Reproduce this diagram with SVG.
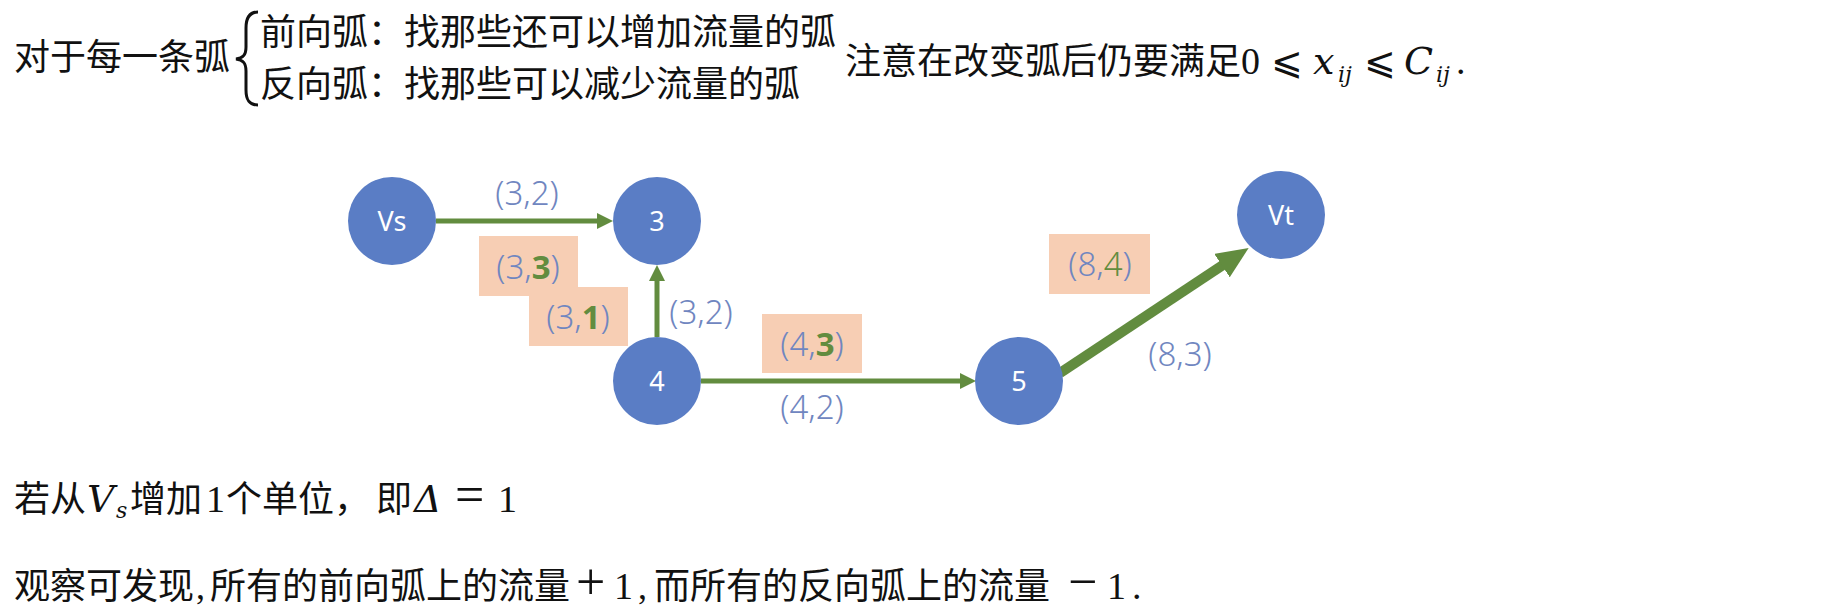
<svg xmlns="http://www.w3.org/2000/svg" width="1846" height="610" viewBox="0 0 1846 610">
<style>
.cjk{font-family:"Liberation Serif","Noto Sans CJK SC",serif;font-size:36px;fill:#111}
.mi{font-family:"DejaVu Serif",serif;font-style:italic;font-size:38px}
.mo{font-family:"Liberation Serif",serif;font-size:52px}
.le{font-family:"DejaVu Sans",sans-serif;font-size:38px}
.md{font-family:"Liberation Serif",serif;font-size:38px}
.sub{font-family:"DejaVu Serif",serif;font-style:italic;font-size:22px}
.node circle{fill:#5A7DC5}
.node text{font-family:"Noto Sans","Noto Sans CJK SC",sans-serif;font-size:27px;fill:#fff;text-anchor:middle}
.lbl{font-family:"Noto Sans","Noto Sans CJK SC",sans-serif;font-size:33px;fill:#7086C0;text-anchor:middle;font-weight:300}
.g{fill:#628C3F;font-weight:700}
.gr{fill:#628C3F}
.box{fill:#F7CEB4}
.edge{stroke:#628C3F;fill:none}
</style>
<defs>
<marker id="ah" viewBox="0 0 16 16" refX="6" refY="8" markerWidth="16" markerHeight="16" markerUnits="userSpaceOnUse" orient="auto">
<path d="M0,0 L16,8 L0,16 z" fill="#628C3F"/>
</marker>
<marker id="ahb" viewBox="0 0 32 28" refX="12" refY="14" markerWidth="32" markerHeight="28" markerUnits="userSpaceOnUse" orient="auto">
<path d="M0,0 L32,14 L0,28 z" fill="#628C3F"/>
</marker>
</defs>
<rect width="1846" height="610" fill="#fff"/>

<g id="header">
<text class="cjk" x="14" y="70">对于每一条弧</text>
<path d="M258,12 C249,12 246,18 246,28 L246,47 C246,55 243,58 236,59 C243,60 246,63 246,71 L246,90 C246,100 249,105 258,105" fill="none" stroke="#111" stroke-width="3"/>
<text class="cjk" x="260" y="45">前向弧：找那些还可以增加流量的弧</text>
<text class="cjk" x="260" y="97">反向弧：找那些可以减少流量的弧</text>
<text class="cjk" y="74"><tspan x="845">注意在改变弧后仍要满足</tspan><tspan x="1241" class="md">0</tspan><tspan x="1271" class="le">⩽</tspan><tspan x="1313" class="mi">x</tspan><tspan x="1338" dy="8" class="sub">ij</tspan><tspan x="1364" dy="-8" class="le">⩽</tspan><tspan x="1404" class="mi">C</tspan><tspan x="1436" dy="8" class="sub">ij</tspan><tspan x="1456" dy="-8" class="md">.</tspan></text>
</g>

<g id="connectors">
<line class="edge" x1="436" y1="221" x2="603" y2="221" stroke-width="5" marker-end="url(#ah)"/>
<line class="edge" x1="657" y1="337" x2="657" y2="275" stroke-width="5" marker-end="url(#ah)"/>
<line class="edge" x1="701" y1="381" x2="966" y2="381" stroke-width="5" marker-end="url(#ah)"/>
<line class="edge" x1="1060" y1="373" x2="1232" y2="259" stroke-width="10" marker-end="url(#ahb)"/>
</g>

<g id="node-vs" class="node"><circle cx="392" cy="221" r="44"/><text x="392" y="231">Vs</text></g>
<g id="node-3" class="node"><circle cx="657" cy="221" r="44"/><text x="657" y="231">3</text></g>
<g id="node-4" class="node"><circle cx="657" cy="381" r="44"/><text x="657" y="391">4</text></g>
<g id="node-5" class="node"><circle cx="1019" cy="381" r="44"/><text x="1019" y="391">5</text></g>
<g id="node-vt" class="node"><circle cx="1281" cy="215" r="44"/><text x="1281" y="225">Vt</text></g>

<g id="labels">
<text class="lbl" x="527" y="205">(3,2)</text>
<rect class="box" x="479" y="236" width="99" height="60"/>
<text class="lbl" x="528" y="279">(3,<tspan class="g">3</tspan>)</text>
<rect class="box" x="529" y="287" width="99" height="59"/>
<text class="lbl" x="578" y="329">(3,<tspan class="g">1</tspan>)</text>
<text class="lbl" x="701" y="324">(3,2)</text>
<rect class="box" x="762" y="314" width="100" height="59"/>
<text class="lbl" x="812" y="356">(4,<tspan class="g">3</tspan>)</text>
<text class="lbl" x="812" y="419">(4,2)</text>
<rect class="box" x="1049" y="234" width="101" height="60"/>
<text class="lbl" x="1100" y="276">(8,<tspan class="gr">4</tspan>)</text>
<text class="lbl" x="1180" y="366">(8,3)</text>
</g>

<g id="footer">
<text class="cjk" y="512"><tspan x="14">若从</tspan><tspan x="87" class="mi">V</tspan><tspan x="116" dy="6" class="sub" font-size="24">s</tspan><tspan x="130" dy="-6">增加</tspan><tspan x="206" class="md">1</tspan><tspan x="226">个单位，</tspan><tspan x="376">即</tspan><tspan x="414" class="mi" font-size="48">Δ</tspan><tspan x="455" class="mo" font-size="56">=</tspan><tspan x="498" class="md">1</tspan></text>
<text class="cjk" y="599"><tspan x="14">观察可发现</tspan><tspan x="196">,</tspan><tspan x="210">所有的前向弧上的流量</tspan><tspan x="576" class="mo">+</tspan><tspan x="614" class="md">1</tspan><tspan x="638">,</tspan><tspan x="654">而所有的反向弧上的流量</tspan><tspan x="1068" class="mo">−</tspan><tspan x="1107" class="md">1</tspan><tspan x="1132" class="md">.</tspan></text>
</g>
</svg>
